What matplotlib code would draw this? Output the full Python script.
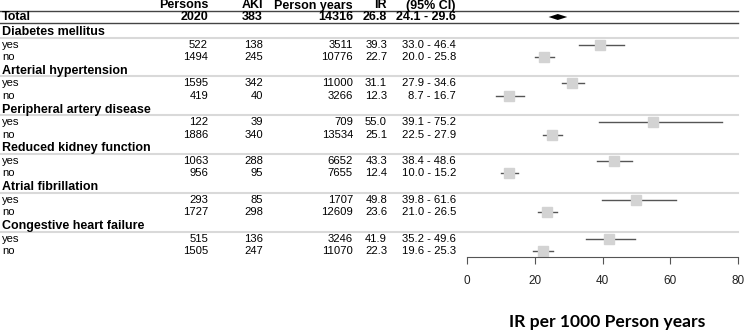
import numpy as np
import matplotlib.pyplot as plt

# %% Daten
groups = ["Diabetes mellitus", "Arterial hypertension", "Peripheral artery disease",
          "Reduced kidney function", "Atrial fibrillation", "Congestive heart failure"]
persons = [[522, 1494], [1595, 419], [122, 1886], [1063, 956], [293, 1727], [515, 1505]]
aki = [[138, 245], [342, 40], [39, 340], [288, 95], [85, 298], [136, 247]]
pyears = [[3511, 10776], [11000, 3266], [709, 13534], [6652, 7655], [1707, 12609], [3246, 11070]]
ir = [[39.3, 22.7], [31.1, 12.3], [55.0, 25.1], [43.3, 12.4], [49.8, 23.6], [41.9, 22.3]]
ci_lo = [[33.0, 20.0], [27.9, 8.7], [39.1, 22.5], [38.4, 10.0], [39.8, 21.0], [35.2, 19.6]]
ci_hi = [[46.4, 25.8], [34.6, 16.7], [75.2, 27.9], [48.6, 15.2], [61.6, 26.5], [49.6, 25.3]]
sub_labels = ["yes", "no"]

total = {"persons": 2020, "aki": 383, "pyears": 14316, "ir": 26.8, "lo": 24.1, "hi": 29.6}

header = ["Persons", "AKI", "Person years", "IR", "(95% CI)"]
xticks = [0, 20, 40, 60, 80]

# %% Layout (Pixel)
W, H = 744, 333
col_x = [208, 263, 353, 387, 456]   # rechtsbündig
FONT = "Liberation Sans"
fs_reg = 8.1
fs_bold = 9

fig = plt.figure(figsize=(W / 100, H / 100), dpi=100)
ax = fig.add_axes([0, 0, 1, 1])
ax.set_xlim(0, W)
ax.set_ylim(H, 0)
ax.axis("off")

ax_f = fig.add_axes([467 / W, 0, 271 / W, 1])
ax_f.set_xlim(0, 80)
ax_f.set_ylim(H, 0)
ax_f.patch.set_alpha(0)
for s in ["top", "left", "right"]:
    ax_f.spines[s].set_visible(False)
ax_f.spines["bottom"].set_position(("data", 257))
ax_f.spines["bottom"].set_color("#555555")
ax_f.set_yticks([])
ax_f.set_xticks(xticks)
ax_f.tick_params(axis="x", direction="out", length=5, width=0.8, color="#555555",
                 pad=8, labelsize=8.5, labelcolor="#222222")
for lab in ax_f.get_xticklabels():
    lab.set_fontfamily(FONT)

# Kopfzeile
y_head = 5.5
for txt, x in zip(header, col_x):
    ax.text(x, y_head, txt, ha="right", va="center", fontsize=fs_bold,
            fontweight="bold", family=FONT)

# Total
y_tot = 17
ax.plot([0, 738], [10.7, 10.7], color="#444444", lw=1)
ax.plot([0, 738], [22.8, 22.8], color="#444444", lw=1)
ax.text(2, y_tot, "Total", ha="left", va="center", fontsize=fs_bold,
        fontweight="bold", family=FONT)
tot_vals = [str(total["persons"]), str(total["aki"]), str(total["pyears"]),
            "%.1f" % total["ir"], "%.1f - %.1f" % (total["lo"], total["hi"])]
for txt, x in zip(tot_vals, col_x):
    ax.text(x, y_tot, txt, ha="right", va="center", fontsize=fs_bold,
            fontweight="bold", family=FONT)
ax_f.fill([total["lo"], total["ir"], total["hi"], total["ir"]],
          [y_tot, y_tot - 3, y_tot, y_tot + 3], color="black", lw=0)

# Gruppen
for g, name in enumerate(groups):
    y0 = 32 + 38.8 * g
    ax.text(2, y0, name, ha="left", va="center", fontsize=fs_bold,
            fontweight="bold", family=FONT)
    ax.plot([0, 738], [y0 + 5.5, y0 + 5.5], color="#d9d9d9", lw=1.5)
    for k in range(2):
        y = y0 + 12.5 * (k + 1)
        ax.text(2, y, sub_labels[k], ha="left", va="center", fontsize=fs_reg, family=FONT)
        vals = [str(persons[g][k]), str(aki[g][k]), str(pyears[g][k]),
                "%.1f" % ir[g][k], "%.1f - %.1f" % (ci_lo[g][k], ci_hi[g][k])]
        for txt, x in zip(vals, col_x):
            ax.text(x, y, txt, ha="right", va="center", fontsize=fs_reg, family=FONT)
        ax_f.plot([ci_lo[g][k], ci_hi[g][k]], [y, y], color="#555555", lw=1)
        ax_f.plot(ir[g][k], y, "s", color="#d3d3d3", ms=6.5, mec="#d3d3d3")

ax.text(607, 322, "IR per 1000 Person years", ha="center", va="center",
        fontsize=12.6, fontweight="bold", family="Lato")

fig.savefig("out.png", dpi=100)
